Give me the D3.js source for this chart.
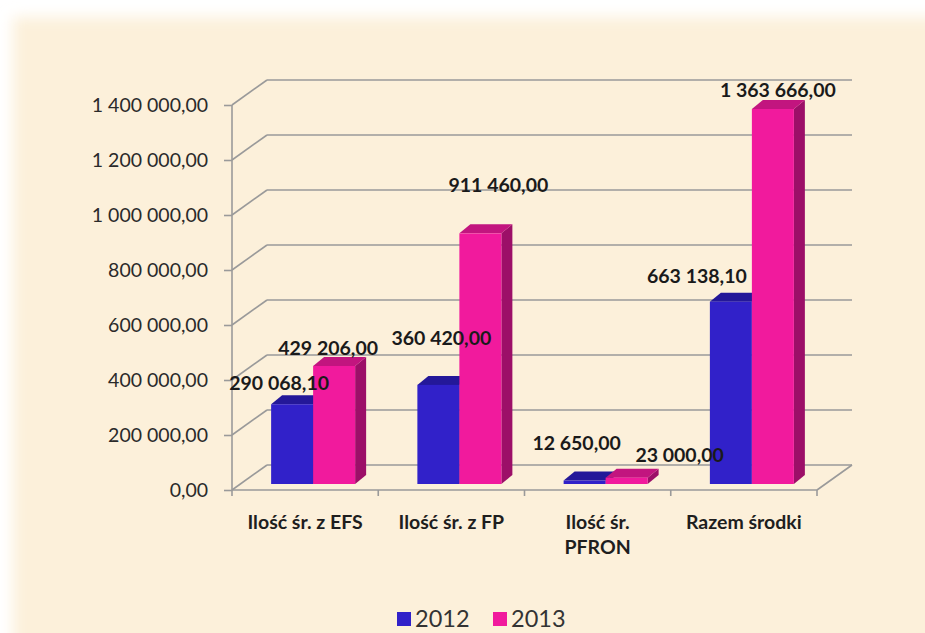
<!DOCTYPE html>
<html>
<head>
<meta charset="utf-8">
<script src="https://cdn.jsdelivr.net/npm/d3@7"></script>
<style>
  html, body { margin: 0; padding: 0; background: #ffffff; }
  svg { display: block; }
</style>
</head>
<body>
<script>
// data
const categories = [["Ilość śr. z EFS"], ["Ilość śr. z FP"], ["Ilość śr.", "PFRON"], ["Razem środki"]];
const seriesNames = ["2012", "2013"];
const values2012 = [290068.10, 360420.00, 12650.00, 663138.10];
const values2013 = [429206.00, 911460.00, 23000.00, 1363666.00];
const yTicks = [0, 200000, 400000, 600000, 800000, 1000000, 1200000, 1400000];

// label nudges (the labels were dragged around in the original)
const labelNudge2012 = [[-13, -21], [3, -47], [-8, -37], [-34, -25]];
const labelNudge2013 = [[-6, -18], [18, -48], [53, -23], [5, -19]];

let w = 925;
let h = 633;

let plotLeft = 232, plotRight = 817, plotBottom = 490, plotTop = 105;
let wallDx = 35, wallDy = -25;   // depth of the back wall
let barDx = 8, barDy = -6;       // where the bars stand
let depthDx = 11, depthDy = -9;  // bar depth
let barWidth = 42;

let colors = {
  "2012": {front: "#3121c9", top: "#241899", side: "#1c127c"},
  "2013": {front: "#f11a9d", top: "#c2157f", side: "#9c0f68"}
};

const pl = d3.formatLocale({decimal: ",", thousands: " ", grouping: [3], currency: ["", ""]});
const fmt = pl.format(",.2f");

let svg = d3.select("body")
  .append("svg")
  .attr("width", w)
  .attr("height", h);

// beige background with soft white edges
let defs = svg.append("defs");
defs.append("filter")
  .attr("id", "soft")
  .attr("x", "-5%").attr("y", "-5%").attr("width", "110%").attr("height", "110%")
  .append("feGaussianBlur")
  .attr("stdDeviation", 7);

svg.append("rect")
  .attr("x", 13)
  .attr("y", 17)
  .attr("width", w + 40)
  .attr("height", h + 40)
  .attr("fill", "#fcf0da")
  .attr("filter", "url(#soft)");

let xScale = d3.scaleBand()
  .domain(d3.range(categories.length))
  .range([plotLeft, plotRight]);

let yScale = d3.scaleLinear()
  .domain([0, 1400000])
  .range([plotBottom, plotTop]);

let gridColor = "#9a9a9a";

// back wall grid lines and left wall diagonals
let grid = svg.append("g").attr("id", "grid");
grid.selectAll("line.back")
  .data(yTicks)
  .enter()
  .append("line")
  .attr("class", "back")
  .attr("x1", plotLeft + wallDx)
  .attr("x2", plotRight + wallDx)
  .attr("y1", (d) => yScale(d) + wallDy)
  .attr("y2", (d) => yScale(d) + wallDy)
  .attr("stroke", gridColor)
  .attr("stroke-width", 1.6);

grid.selectAll("line.side")
  .data(yTicks)
  .enter()
  .append("line")
  .attr("class", "side")
  .attr("x1", plotLeft)
  .attr("x2", plotLeft + wallDx)
  .attr("y1", (d) => yScale(d))
  .attr("y2", (d) => yScale(d) + wallDy)
  .attr("stroke", gridColor)
  .attr("stroke-width", 1.6);

// floor front edge and right edge
grid.append("line")
  .attr("x1", plotLeft).attr("x2", plotRight)
  .attr("y1", plotBottom).attr("y2", plotBottom)
  .attr("stroke", gridColor).attr("stroke-width", 1.6);
grid.append("line")
  .attr("x1", plotRight).attr("x2", plotRight + wallDx)
  .attr("y1", plotBottom).attr("y2", plotBottom + wallDy)
  .attr("stroke", gridColor).attr("stroke-width", 1.6);

// category boundary ticks
grid.selectAll("line.ctick")
  .data(d3.range(categories.length + 1))
  .enter()
  .append("line")
  .attr("class", "ctick")
  .attr("x1", (i) => plotLeft + i * xScale.bandwidth())
  .attr("x2", (i) => plotLeft + i * xScale.bandwidth())
  .attr("y1", plotBottom)
  .attr("y2", plotBottom + 6)
  .attr("stroke", gridColor).attr("stroke-width", 1.6);

// y axis
let yAxis = d3.axisLeft(yScale)
  .tickValues(yTicks)
  .tickFormat(fmt)
  .tickSize(8)
  .tickPadding(16);

let yg = svg.append("g")
  .attr("id", "y-axis")
  .attr("transform", "translate(" + plotLeft + ",0)")
  .call(yAxis);
yg.select(".domain").remove();
yg.selectAll(".tick line").attr("stroke", gridColor).attr("stroke-width", 1.6);
yg.selectAll(".tick text")
  .attr("fill", "#2a2a2a")
  .style("font-family", "Lato, 'Liberation Sans', sans-serif")
  .style("font-size", "19.5px");

svg.append("line")
  .attr("x1", plotLeft).attr("x2", plotLeft)
  .attr("y1", plotTop).attr("y2", plotBottom)
  .attr("stroke", gridColor).attr("stroke-width", 1.6);

// bars
let bars = [];
categories.forEach((c, i) => {
  bars.push({cat: i, s: "2012", v: values2012[i], k: 0, nudge: labelNudge2012[i]});
  bars.push({cat: i, s: "2013", v: values2013[i], k: 1, nudge: labelNudge2013[i]});
});

function barX(d) {
  return xScale(d.cat) + xScale.bandwidth() / 2 + barDx - barWidth + d.k * barWidth;
}
function barBase() { return yScale(0) + barDy; }
function barTop(d) { return yScale(d.v) + barDy; }

let barG = svg.append("g").attr("id", "bars");
let bg = barG.selectAll("g.bar")
  .data(bars)
  .enter()
  .append("g")
  .attr("class", "bar");

bg.append("path")
  .attr("d", (d) => {
    let x1 = barX(d) + barWidth, y0 = barBase(), y1 = barTop(d);
    return "M" + x1 + "," + y0 + "L" + (x1 + depthDx) + "," + (y0 + depthDy) +
      "L" + (x1 + depthDx) + "," + (y1 + depthDy) + "L" + x1 + "," + y1 + "Z";
  })
  .attr("fill", (d) => colors[d.s].side);

bg.append("path")
  .attr("d", (d) => {
    let x0 = barX(d), x1 = x0 + barWidth, y1 = barTop(d);
    return "M" + x0 + "," + y1 + "L" + (x0 + depthDx) + "," + (y1 + depthDy) +
      "L" + (x1 + depthDx) + "," + (y1 + depthDy) + "L" + x1 + "," + y1 + "Z";
  })
  .attr("fill", (d) => colors[d.s].top);

bg.append("rect")
  .attr("x", (d) => barX(d))
  .attr("y", (d) => barTop(d))
  .attr("width", barWidth)
  .attr("height", (d) => barBase() - barTop(d))
  .attr("fill", (d) => colors[d.s].front);

// data labels
svg.append("g")
  .attr("id", "labels")
  .selectAll("text")
  .data(bars)
  .enter()
  .append("text")
  .attr("x", (d) => barX(d) + barWidth / 2 + d.nudge[0])
  .attr("y", (d) => barTop(d) + d.nudge[1])
  .attr("dy", "0.35em")
  .attr("text-anchor", "middle")
  .attr("fill", "#1a1a1a")
  .style("font-family", "Lato, 'Liberation Sans', sans-serif")
  .style("font-weight", "bold")
  .style("font-size", "19.5px")
  .text((d) => fmt(d.v));

// category labels
let catG = svg.append("g").attr("id", "x-axis");
catG.selectAll("text")
  .data(categories)
  .enter()
  .append("text")
  .attr("x", (d, i) => xScale(i) + xScale.bandwidth() / 2)
  .attr("y", 522)
  .attr("text-anchor", "middle")
  .attr("fill", "#1e1e1e")
  .style("font-family", "Lato, 'Liberation Sans', sans-serif")
  .style("font-weight", "bold")
  .style("font-size", "19.5px")
  .each(function(d, i) {
    let t = d3.select(this);
    d.forEach((line, j) => {
      t.append("tspan")
        .attr("x", xScale(i) + xScale.bandwidth() / 2)
        .attr("dy", j === 0 ? "0.35em" : "25px")
        .text(line);
    });
  });

// legend
let legend = svg.append("g").attr("id", "legend");
let legendX = [397, 493];
seriesNames.forEach((s, i) => {
  legend.append("rect")
    .attr("x", legendX[i])
    .attr("y", 612)
    .attr("width", 14)
    .attr("height", 14)
    .attr("fill", colors[s].front);
  legend.append("text")
    .attr("x", legendX[i] + 18)
    .attr("y", 619)
    .attr("dy", "0.36em")
    .attr("fill", "#333333")
    .style("font-family", "Lato, 'Liberation Sans', sans-serif")
    .style("font-size", "23.5px")
    .text(s);
});
</script>
</body>
</html>
